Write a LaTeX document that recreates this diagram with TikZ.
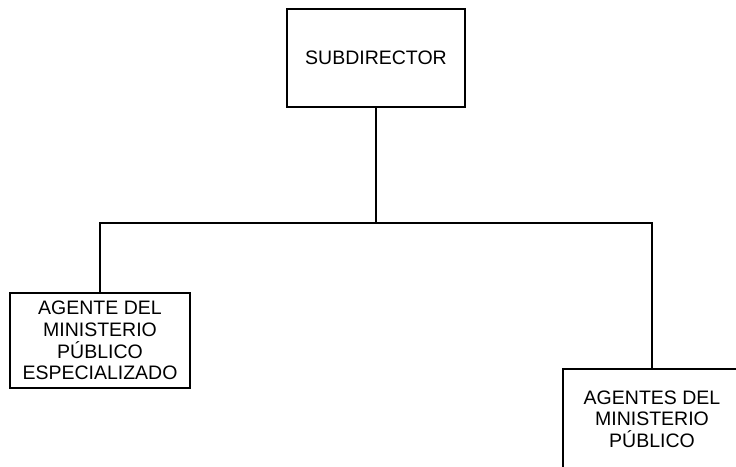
\documentclass[tikz,border=0pt]{standalone}
\usepackage{fontspec}
\setmainfont{Liberation Sans}
\begin{document}
\begin{tikzpicture}[x=1pt, y=-1pt,
    caja/.style={draw, line width=1.6pt, align=center, inner sep=0pt,
        font=\fontsize{19.5}{21.7}\selectfont},
    linea/.style={line width=1.6pt}] %Organigrama
            \useasboundingbox (0,0) rectangle (736,466);

            \node[caja, minimum width=178pt, minimum height=98pt] (S) at (376,58) {SUBDIRECTOR};
            \node[caja, minimum width=180pt, minimum height=95pt] (L) at (100,340.5)
                {AGENTE DEL\\ MINISTERIO\\ PÚBLICO\\ ESPECIALIZADO};
            \node[caja, minimum width=178pt, minimum height=100pt] (R) at (652,419)
                {AGENTES DEL\\ MINISTERIO\\ PÚBLICO};

            \coordinate (M) at (376,223);

            \draw[linea] (S.south) -- (M);
            \draw[linea] (L.north) |- (M) -| (R.north);
        \end{tikzpicture}
\end{document}
